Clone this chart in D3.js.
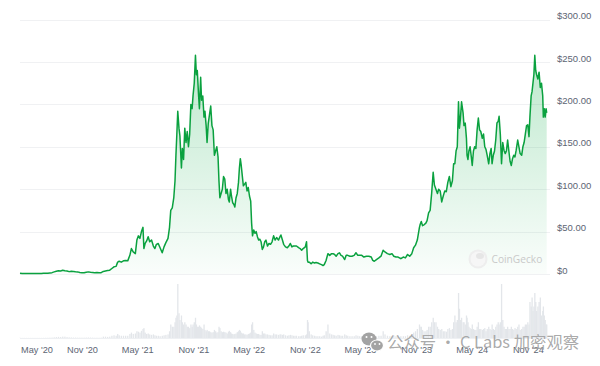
<!DOCTYPE html>
<html><head><meta charset="utf-8">
<script src="https://cdn.jsdelivr.net/npm/d3@7"></script>
<style>html,body{margin:0;padding:0;background:#fff;}svg{display:block;}</style>
</head><body>
<svg id="chart" width="600" height="366"></svg>
<script>
const dates = ["2020-04-10","2020-04-17","2020-04-24","2020-05-01","2020-05-08","2020-05-15","2020-05-22","2020-05-29","2020-06-05","2020-06-12","2020-06-19","2020-06-26","2020-07-03","2020-07-10","2020-07-17","2020-07-24","2020-07-31","2020-08-07","2020-08-14","2020-08-21","2020-08-28","2020-09-04","2020-09-11","2020-09-18","2020-09-25","2020-10-02","2020-10-09","2020-10-16","2020-10-23","2020-10-30","2020-11-06","2020-11-13","2020-11-20","2020-11-27","2020-12-04","2020-12-11","2020-12-18","2020-12-25",
"2021-01-01","2021-01-08","2021-01-15","2021-01-22","2021-01-29","2021-02-05","2021-02-12","2021-02-19","2021-02-24","2021-03-01","2021-03-08","2021-03-15","2021-03-22","2021-03-29","2021-04-05","2021-04-10","2021-04-16","2021-04-23","2021-04-28","2021-05-03","2021-05-08","2021-05-13","2021-05-18","2021-05-21","2021-05-25","2021-05-30","2021-06-04","2021-06-09","2021-06-15","2021-06-21","2021-06-26","2021-07-01","2021-07-07","2021-07-13","2021-07-20","2021-07-26","2021-08-01","2021-08-08","2021-08-13","2021-08-17","2021-08-22","2021-08-27","2021-08-31","2021-09-03","2021-09-06","2021-09-09","2021-09-13","2021-09-16","2021-09-21","2021-09-24","2021-09-28","2021-10-02","2021-10-06","2021-10-10","2021-10-14","2021-10-18","2021-10-22","2021-10-26","2021-10-29","2021-11-02","2021-11-06","2021-11-09","2021-11-12","2021-11-16","2021-11-19","2021-11-23","2021-11-26","2021-11-30","2021-12-04","2021-12-07","2021-12-11","2021-12-14","2021-12-18","2021-12-22","2021-12-26","2021-12-30",
"2022-01-03","2022-01-07","2022-01-11","2022-01-15","2022-01-19","2022-01-22","2022-01-25","2022-01-29","2022-02-02","2022-02-06","2022-02-10","2022-02-14","2022-02-18","2022-02-22","2022-02-25","2022-03-01","2022-03-04","2022-03-08","2022-03-12","2022-03-15","2022-03-19","2022-03-23","2022-03-27","2022-03-30","2022-04-02","2022-04-05","2022-04-09","2022-04-12","2022-04-16","2022-04-20","2022-04-24","2022-04-28","2022-05-02","2022-05-06","2022-05-09","2022-05-12","2022-05-16","2022-05-20","2022-05-24","2022-05-28","2022-06-01","2022-06-05","2022-06-09","2022-06-13","2022-06-17","2022-06-21","2022-06-25","2022-06-30","2022-07-05","2022-07-10","2022-07-15","2022-07-20","2022-07-25","2022-07-30","2022-08-05","2022-08-10","2022-08-13","2022-08-18","2022-08-22","2022-08-28","2022-09-03","2022-09-08","2022-09-13","2022-09-18","2022-09-23","2022-09-28","2022-10-03","2022-10-10","2022-10-15","2022-10-20","2022-10-25","2022-11-01","2022-11-05","2022-11-08","2022-11-10","2022-11-14","2022-11-20","2022-11-25","2022-12-01","2022-12-06","2022-12-12","2022-12-18","2022-12-24","2022-12-29",
"2023-01-02","2023-01-08","2023-01-14","2023-01-20","2023-01-26","2023-01-31","2023-02-05","2023-02-10","2023-02-16","2023-02-21","2023-02-26","2023-03-03","2023-03-10","2023-03-15","2023-03-20","2023-03-27","2023-04-03","2023-04-10","2023-04-16","2023-04-22","2023-04-28","2023-05-05","2023-05-12","2023-05-20","2023-05-28","2023-06-05","2023-06-10","2023-06-15","2023-06-22","2023-06-30","2023-07-07","2023-07-14","2023-07-20","2023-07-28","2023-08-05","2023-08-12","2023-08-18","2023-08-25","2023-09-01","2023-09-10","2023-09-18","2023-09-25","2023-10-02","2023-10-09","2023-10-16","2023-10-22","2023-10-28","2023-11-03","2023-11-10","2023-11-12","2023-11-16","2023-11-20","2023-11-25","2023-12-01","2023-12-05","2023-12-10","2023-12-15","2023-12-20","2023-12-25","2023-12-29",
"2024-01-03","2024-01-08","2024-01-12","2024-01-17","2024-01-22","2024-01-27","2024-02-01","2024-02-06","2024-02-11","2024-02-16","2024-02-21","2024-02-26","2024-03-01","2024-03-05","2024-03-09","2024-03-13","2024-03-17","2024-03-20","2024-03-23","2024-03-27","2024-04-01","2024-04-04","2024-04-08","2024-04-12","2024-04-14","2024-04-17","2024-04-20","2024-04-24","2024-04-28","2024-05-01","2024-05-05","2024-05-09","2024-05-13","2024-05-17","2024-05-21","2024-05-25","2024-05-29","2024-06-03","2024-06-07","2024-06-11","2024-06-15","2024-06-19","2024-06-24","2024-06-28","2024-07-02","2024-07-05","2024-07-09","2024-07-13","2024-07-17","2024-07-21","2024-07-25","2024-07-28","2024-08-01","2024-08-05","2024-08-09","2024-08-13","2024-08-17","2024-08-21","2024-08-25","2024-08-29","2024-09-02","2024-09-06","2024-09-10","2024-09-14","2024-09-18","2024-09-22","2024-09-27","2024-10-01","2024-10-05","2024-10-10","2024-10-14","2024-10-18","2024-10-22","2024-10-26","2024-10-30","2024-11-03","2024-11-06","2024-11-10","2024-11-13","2024-11-16","2024-11-19","2024-11-22","2024-11-25","2024-11-28","2024-12-02","2024-12-06","2024-12-10","2024-12-14","2024-12-18","2024-12-20","2024-12-23","2024-12-26","2024-12-29","2024-12-31"];

const prices = [0.95,0.65,0.62,0.60,0.65,0.58,0.65,0.70,0.70,0.60,0.62,0.75,0.85,1.0,1.3,1.6,2.5,3.3,3.9,3.6,4.5,3.8,3.6,2.8,3.2,3.0,2.7,2.5,1.8,1.6,1.5,2.0,2.5,2.0,1.9,1.6,1.7,1.4,
1.6,3.0,3.5,4.0,4.5,6.5,8.5,9.0,14.0,15.0,14.0,15.5,16.0,15.5,22.0,30.0,26.0,24.0,40.0,45.0,42.0,50.0,55.0,30.0,36.0,39.0,44.0,38.0,40.0,33.0,30.0,35.0,36.0,31.0,25.0,32.0,37.0,42.0,55.0,75.0,78.0,90.0,110.0,140.0,165.0,192.0,172.0,163.0,125.0,148.0,135.0,172.0,155.0,168.0,150.0,165.0,200.0,195.0,210.0,225.0,258.0,235.0,240.0,212.0,195.0,232.0,205.0,210.0,185.0,192.0,175.0,155.0,178.0,188.0,198.0,175.0,
170.0,140.0,145.0,150.0,138.0,110.0,90.0,95.0,100.0,115.0,112.0,95.0,100.0,88.0,85.0,100.0,92.0,84.0,82.0,79.0,90.0,95.0,108.0,125.0,136.0,128.0,114.0,104.0,106.0,108.0,98.0,102.0,92.0,86.0,60.0,45.0,52.0,48.0,50.0,44.0,40.0,41.0,38.0,29.0,32.0,38.0,40.0,33.0,36.0,35.0,38.0,45.0,40.0,43.0,40.0,44.0,46.0,40.0,35.0,32.0,31.0,33.0,36.0,32.0,33.0,33.0,33.0,31.0,30.0,28.0,30.0,32.0,38.0,16.0,14.0,14.0,12.0,14.0,13.0,13.5,13.0,12.0,11.0,10.0,
11.0,16.0,24.0,22.0,24.0,24.0,23.0,21.0,24.0,25.0,22.0,21.0,17.0,22.0,22.0,21.0,21.0,22.0,25.0,22.0,22.0,22.0,20.0,21.0,21.0,20.0,16.0,15.0,17.0,19.0,21.0,28.0,26.0,24.0,23.0,24.0,21.0,20.0,20.0,18.0,20.0,19.0,23.0,21.0,24.0,31.0,34.0,40.0,55.0,58.0,62.0,57.0,58.0,60.0,63.0,72.0,75.0,95.0,120.0,105.0,
100.0,95.0,100.0,98.0,85.0,92.0,98.0,97.0,108.0,115.0,103.0,110.0,130.0,130.0,145.0,150.0,203.0,172.0,182.0,203.0,190.0,175.0,178.0,160.0,140.0,135.0,145.0,150.0,138.0,128.0,145.0,150.0,148.0,170.0,184.0,170.0,168.0,160.0,165.0,150.0,147.0,140.0,130.0,142.0,148.0,130.0,140.0,145.0,158.0,178.0,180.0,186.0,165.0,130.0,155.0,146.0,142.0,145.0,158.0,145.0,133.0,128.0,136.0,140.0,138.0,146.0,158.0,150.0,142.0,140.0,150.0,155.0,165.0,175.0,176.0,162.0,185.0,210.0,215.0,225.0,235.0,258.0,240.0,235.0,230.0,238.0,220.0,225.0,210.0,185.0,195.0,185.0,195.0,190.0];

const volumes = [0.05,0.03,0.03,0.03,0.03,0.03,0.03,0.03,0.03,0.03,0.03,0.04,0.05,0.06,0.08,0.1,0.15,0.2,0.25,0.2,0.3,0.3,0.2,0.15,0.12,0.1,0.1,0.08,0.08,0.08,0.08,0.1,0.12,0.1,0.08,0.06,0.07,0.06,
0.08,0.3,0.3,0.25,0.3,0.5,0.6,0.5,0.9,0.6,0.5,0.5,0.5,0.5,0.9,1.2,0.9,1.0,1.5,1.4,1.2,1.6,2.0,2.2,1.2,0.9,1.0,0.8,0.7,0.8,0.6,0.5,0.5,0.4,0.5,0.6,0.7,0.8,1.5,3.0,2.5,2.5,3.5,4.5,5.0,12.0,5.5,4.0,5.0,3.5,3.0,3.5,3.0,2.5,2.5,2.2,3.0,2.5,3.0,3.5,4.5,3.0,2.5,2.5,2.8,2.5,2.2,2.0,3.0,1.8,1.5,1.8,1.5,1.5,1.3,1.2,
1.3,1.8,1.5,1.2,1.3,2.5,2.2,1.5,1.3,1.4,1.3,1.2,1.0,1.4,1.6,1.3,1.0,0.9,0.8,0.9,1.0,1.3,1.5,1.8,1.6,1.2,1.0,1.0,0.8,0.8,0.7,0.9,1.0,1.2,3.0,3.5,1.8,1.2,1.0,0.9,0.9,0.7,0.7,1.5,1.0,1.0,0.8,0.8,0.7,0.6,0.6,1.0,0.8,0.8,0.7,0.8,0.8,0.7,0.8,0.6,0.5,0.6,0.7,0.6,0.5,0.5,0.5,0.4,0.4,0.5,0.6,0.6,0.8,4.0,3.5,1.5,0.8,0.6,0.5,0.4,0.4,0.4,0.3,0.5,
0.6,1.5,3.0,1.0,0.8,0.7,0.6,0.5,0.7,0.6,0.5,0.5,0.8,0.6,0.5,0.4,0.4,0.4,0.6,0.5,0.4,0.4,0.4,0.3,0.3,0.4,0.8,0.5,0.4,0.5,0.5,1.5,0.8,0.5,0.4,0.4,0.6,0.4,0.4,0.4,0.4,0.4,0.6,0.5,0.7,1.2,1.5,2.0,3.0,2.5,2.5,1.8,1.5,1.5,1.8,2.5,2.5,3.5,4.5,3.5,
3.5,2.5,2.0,1.8,2.0,1.5,1.5,1.4,2.0,2.2,1.8,2.0,3.5,5.0,3.5,4.0,10.0,6.5,4.0,4.5,3.5,3.5,3.0,5.0,4.5,3.5,2.5,2.2,2.0,3.0,2.0,1.8,1.8,2.5,3.5,2.0,2.0,1.8,2.0,2.2,1.5,2.0,2.5,2.0,1.8,3.0,2.0,1.8,2.5,3.0,3.5,3.0,3.5,12.0,4.0,2.5,2.0,2.0,2.5,2.0,2.0,2.5,2.0,1.8,2.2,2.0,2.5,3.0,1.8,2.0,2.5,2.5,3.0,3.0,3.5,3.0,8.0,7.0,9.0,6.0,7.0,10.0,8.0,6.0,7.0,8.0,9.0,5.0,6.0,7.0,5.0,4.0,3.0,3.0];

const yTicks = [0, 50, 100, 150, 200, 250, 300];
const yTickLabels = ["$0", "$50.00", "$100.00", "$150.00", "$200.00", "$250.00", "$300.00"];
const xTicks = ["2020-05-01","2020-11-01","2021-05-01","2021-11-01","2022-05-01","2022-11-01","2023-05-01","2023-11-01","2024-05-01","2024-11-01"];
const xTickLabels = ["May '20","Nov '20","May '21","Nov '21","May '22","Nov '22","May '23","Nov '23","May '24","Nov '24"];

const parse = d3.timeParse("%Y-%m-%d");
const data = dates.map((d, i) => ({date: parse(d), price: prices[i], vol: volumes[i]}));

const svg = d3.select("#chart");
const x = d3.scaleTime().domain([parse("2020-04-10"), parse("2025-01-01")]).range([20, 547]);
const y = d3.scaleLinear().domain([0, 300]).range([274, 19.6]);
const yv = d3.scaleLinear().domain([0, 12]).range([338, 284]);

const font = "'Liberation Sans', Arial, sans-serif";

// volume bars
svg.append("g").selectAll("rect").data(data).join("rect")
  .attr("x", d => x(d.date) - 0.6)
  .attr("width", 1.3)
  .attr("y", d => yv(d.vol))
  .attr("height", d => 338 - yv(d.vol))
  .attr("fill", "#e3e6ea");
svg.append("line").attr("x1", 20).attr("x2", 550).attr("y1", 338.5).attr("y2", 338.5)
  .attr("stroke", "#eef0f3").attr("stroke-width", 1);

// gridlines
svg.append("g").selectAll("line").data(yTicks).join("line")
  .attr("x1", 20).attr("x2", 550)
  .attr("y1", d => Math.round(y(d)) + 0.5).attr("y2", d => Math.round(y(d)) + 0.5)
  .attr("stroke", "#f0f1f3").attr("stroke-width", 1);

// gradient
const defs = svg.append("defs");
const grad = defs.append("linearGradient").attr("id", "g1")
  .attr("gradientUnits", "userSpaceOnUse").attr("x1", 0).attr("x2", 0)
  .attr("y1", y(260)).attr("y2", y(0));
grad.append("stop").attr("offset", "0%").attr("stop-color", "#00a83e").attr("stop-opacity", 0.26);
grad.append("stop").attr("offset", "100%").attr("stop-color", "#00a83e").attr("stop-opacity", 0.02);

const area = d3.area().x(d => x(d.date)).y0(y(0)).y1(d => y(d.price));
svg.append("path").datum(data).attr("d", area).attr("fill", "url(#g1)");
const line = d3.line().x(d => x(d.date)).y(d => y(d.price));
svg.append("path").datum(data).attr("d", line).attr("fill", "none")
  .attr("stroke", "#0aa13f").attr("stroke-width", 1.5).attr("stroke-linejoin", "round");

// y labels
svg.append("g").selectAll("text").data(yTicks).join("text")
  .attr("x", 557).attr("y", d => y(d) - 0.5)
  .attr("font-family", font).attr("font-size", 9.5).attr("fill", "#5d6573")
  .text((d, i) => yTickLabels[i]);

// x labels
svg.append("g").selectAll("text").data(xTicks).join("text")
  .attr("x", (d, i) => i === 0 ? 21 : x(parse(d)))
  .attr("y", 352.5)
  .attr("text-anchor", (d, i) => i === 0 ? "start" : "middle")
  .attr("font-family", font).attr("font-size", 9.2).attr("fill", "#5d6573")
  .text((d, i) => xTickLabels[i]);

// CoinGecko watermark
const cg = svg.append("g");
cg.append("circle").attr("cx", 478).attr("cy", 259).attr("r", 9.5).attr("fill", "#eeeeee");
cg.append("circle").attr("cx", 478).attr("cy", 259).attr("r", 7.5).attr("fill", "#f6f6f6");
cg.append("ellipse").attr("cx", 480).attr("cy", 256).attr("rx", 4).attr("ry", 3).attr("fill", "#e6e6e6");
cg.append("text").attr("x", 491.5).attr("y", 262.5).attr("font-family", "'Open Sans', Arial, sans-serif")
  .attr("font-size", 10.2).attr("fill", "#c9c9c9").text("CoinGecko");

// WeChat watermark
const wm = svg.append("g");
wm.append("ellipse").attr("cx", 369).attr("cy", 339).attr("rx", 7.5).attr("ry", 6.5).attr("fill", "#a3a3a3");
wm.append("ellipse").attr("cx", 377).attr("cy", 345.5).attr("rx", 6.5).attr("ry", 5.5).attr("fill", "#a3a3a3").attr("stroke", "#fff").attr("stroke-width", 1.2);
wm.append("circle").attr("cx", 366.5).attr("cy", 337).attr("r", 1).attr("fill", "#fff");
wm.append("circle").attr("cx", 371.5).attr("cy", 337).attr("r", 1).attr("fill", "#fff");
wm.append("circle").attr("cx", 375).attr("cy", 344).attr("r", 0.9).attr("fill", "#fff");
wm.append("circle").attr("cx", 379.5).attr("cy", 344).attr("r", 0.9).attr("fill", "#fff");
wm.append("text").attr("x", 387).attr("y", 347.5)
  .attr("font-family", "'Noto Sans CJK SC', 'Noto Sans', sans-serif")
  .attr("font-size", 16.4).attr("fill", "#a0a0a0").attr("fill-opacity", 0.9)
  .text("公众号 · C Labs 加密观察");
</script>
</body></html>
